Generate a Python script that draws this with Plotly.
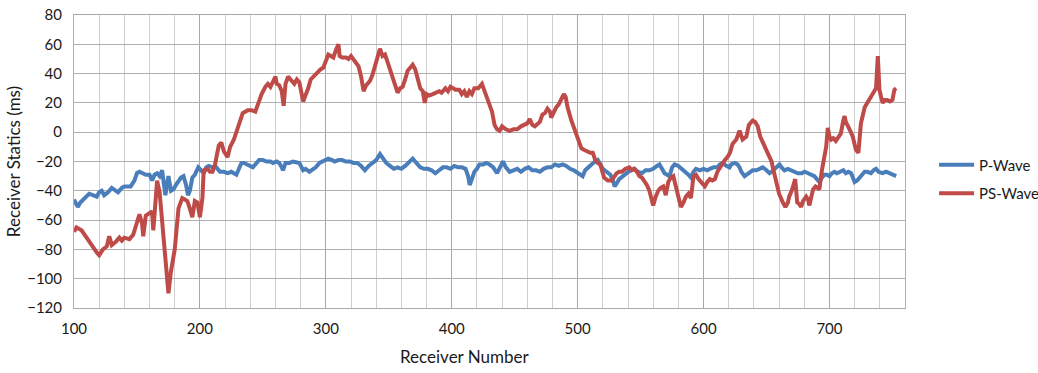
import plotly.graph_objects as go

# Receiver statics along the line, P-wave and converted PS-wave
p_receiver = [
    100, 102, 103, 105, 107, 110, 112, 115, 118, 120, 122, 124, 127, 130, 132, 135, 138, 140, 143, 145,
    148, 150, 152, 155, 157, 160, 162, 164, 166, 168, 170, 171, 172.6, 174, 175, 177, 179, 181, 183, 185,
    187, 189, 190.5, 192, 194, 196, 198.7, 201, 203, 205, 207, 210, 213, 216, 219, 222, 225, 227, 229, 231,
    233, 235, 237, 240, 242, 245, 247, 250, 253, 256, 258, 261, 263, 265, 266, 268, 271, 274, 277, 279,
    282, 284, 287, 290, 292, 295, 297, 300, 302, 305, 307, 310, 313, 316, 319, 322, 325, 328, 331, 334,
    337, 340, 343, 346, 348, 351, 354, 357, 360, 363, 366, 369, 372, 375, 378, 381, 384, 387, 390, 393,
    396, 399, 402, 405, 408, 411, 413, 414.3, 416, 418, 420, 422, 425, 427.5, 430, 433, 436, 438, 440.7, 443,
    446, 449, 452, 455, 458, 461, 464, 467, 470, 473, 476, 479, 482, 485, 488, 491, 494, 497, 500, 502,
    504, 506, 508, 511, 514, 516, 518, 520, 523, 526, 528, 529.4, 531, 533, 536, 539, 542, 545, 548, 551,
    554, 557, 560, 563, 565, 567, 569, 571, 573, 575, 577, 580, 583, 586, 588, 590, 592, 594, 597, 600,
    603, 605, 608, 611, 613, 615.4, 618, 620.6, 622, 624.6, 627, 628.6, 630, 632.6, 634, 636.5, 639, 642, 645, 647,
    650, 652.4, 654, 656.4, 658, 660.3, 662, 664.3, 667, 669.6, 672, 674.9, 678, 680.2, 683, 685.4, 688, 690, 692.1, 694,
    696, 698, 700, 702, 704, 706, 708, 711, 713, 715, 717.2, 719, 720, 722, 724, 726, 728, 730, 733, 735,
    737, 739, 742, 745, 748, 750, 753,
]
p_static = [
    -46, -49, -51, -48, -46, -44, -42, -43, -44, -41, -40, -43, -41, -38, -39, -41, -38, -37, -37, -37,
    -33, -28, -27, -28, -29, -29, -33, -29, -28, -30, -26, -33, -43, -35, -30, -40, -39, -36, -33, -31,
    -30, -36, -43, -40, -31, -29, -24, -26, -28, -24, -23, -24, -24, -27, -27, -28, -27, -28, -29, -25,
    -21, -21, -22, -23, -24, -21, -19, -19, -20, -20, -21, -20, -21, -24, -26, -21, -21, -20, -21, -21,
    -26, -25, -27, -25, -24, -21, -20, -19, -18, -19, -20, -19, -19, -20, -20, -21, -21, -23, -26, -23,
    -21, -19, -15, -19, -21, -23, -25, -24, -25, -23, -20, -18, -21, -24, -25, -25, -26, -28, -26, -24,
    -24, -25, -23, -24, -24, -25, -30, -36, -32, -27, -25, -22, -22, -21, -22, -24, -28, -24, -20, -24,
    -27, -26, -25, -27, -25, -24, -26, -26, -27, -25, -24, -24, -22, -23, -22, -23, -25, -26, -28, -29,
    -30, -26, -24, -22, -20, -19, -22, -25, -27, -29, -33, -37, -35, -32, -30, -28, -26, -25, -27, -28,
    -26, -26, -25, -23, -22, -25, -28, -29, -30, -24, -22, -23, -25, -27, -29, -31, -27, -25, -26, -25,
    -26, -25, -24, -24, -22, -21, -23, -24, -22, -21, -22, -24, -27, -30, -29, -27, -26, -26, -25, -24,
    -26, -28, -27, -25, -23, -22, -24, -26, -25, -26, -27, -28, -28, -27, -28, -29, -30, -32, -34, -31,
    -29, -29, -30, -28, -27, -28, -27, -26, -28, -27, -28, -31, -34, -33, -31, -28, -27, -27, -28, -26,
    -25, -27, -28, -27, -28, -29, -30,
]

ps_receiver = [
    100, 102, 106, 110, 114, 118, 120, 123, 126, 128, 130, 133, 136, 138, 140, 144, 147, 150, 152, 154,
    155, 157, 160, 162, 163, 164, 166, 168, 170, 171, 173, 175, 177, 180, 183, 186, 188, 190, 192, 194,
    196, 198, 200, 202, 203, 206, 208, 210, 212, 215, 217, 219, 222, 224, 227, 229, 231, 234, 238, 241,
    244, 247, 249, 252, 254, 256, 258, 260, 261, 263, 265, 266.5, 268, 270, 272, 275, 277, 279, 282, 284,
    286, 288, 291, 293, 296, 298, 300, 302, 304, 306, 308, 310, 311, 313, 316, 318, 320, 322, 324, 326,
    328, 330, 332, 335, 337, 340, 343, 345, 347, 349, 352, 355, 357, 359, 361, 363, 365, 367, 369, 371,
    373, 375, 377, 378.6, 380, 382, 385, 388, 390, 392, 395, 397, 399, 401, 403, 406, 408, 410, 412, 414,
    416, 418, 421, 424, 426, 428, 430, 432, 434, 436, 438, 440, 443, 446, 449, 452, 455, 458, 460, 462,
    464, 466, 468, 470, 472, 474, 476, 478, 479, 481, 483, 485, 487, 489, 490.5, 492, 495, 497.6, 500, 503,
    505, 507, 510, 512, 514, 516, 518, 521, 524, 527, 529, 531, 533, 535, 538, 541, 543, 545, 547, 549,
    551, 553, 555, 557, 560, 562, 564, 566, 568, 570, 572, 574, 576, 578, 580, 582, 584, 586, 588, 590,
    592, 594, 596, 598, 601, 603, 605, 607, 609, 611, 613, 615, 617, 619, 621, 623, 626, 628.6, 630, 631,
    634, 636, 638, 639, 641, 643, 645, 646, 648, 650, 652, 654, 655, 657, 658, 660, 663, 665, 667, 668,
    670, 671, 672.8, 674.4, 676, 677.5, 679, 681.5, 683, 684, 686, 687, 689, 692, 694, 696, 697.4, 698.7, 700, 701.3,
    703, 705, 707, 709, 711, 712, 713, 715, 717, 718.5, 720, 721, 723, 725, 728, 730, 732, 734, 736, 737,
    738.4, 739.7, 741, 742.3, 744, 746, 748, 750, 751.6, 753,
]
ps_static = [
    -68, -65, -67, -72, -78, -82, -84, -80, -78, -71, -77, -75, -72, -74, -72, -73, -70, -60, -56, -62,
    -71, -57, -55, -54, -67, -55, -33, -41, -60, -69, -95, -110, -95, -80, -52, -45, -46, -47, -52, -58,
    -47, -48, -58, -45, -26, -25, -27, -27, -22, -9, -7, -13, -17, -10, -5, 0, 6, 13, 15, 15,
    14, 22, 26, 31, 33, 31, 34, 38, 33, 32, 28, 18, 33, 38, 36, 33, 36, 34, 21, 25,
    30, 36, 39, 41, 43, 44, 48, 53, 52, 51, 56, 60, 52, 51, 51, 50, 52, 50, 47, 45,
    38, 28, 32, 35, 39, 48, 57, 52, 53, 48, 40, 33, 27, 30, 31, 36, 42, 44, 46, 43,
    36, 30, 28, 20, 26, 25, 26, 27, 28, 27, 30, 28, 31, 30, 29, 29, 26, 28, 24, 28,
    26, 30, 30, 33, 28, 24, 20, 14, 5, 2, 1, 4, 2, 1, 2, 2, 4, 5, 6, 9,
    5, 4, 6, 7, 12, 13, 16, 14, 10, 14, 17, 19, 22, 26, 24, 17, 8, 2, -5, -11,
    -12, -13, -14, -14, -19, -21, -22, -31, -33, -33, -30, -28, -27, -27, -25, -24, -26, -25, -27, -30,
    -31, -33, -36, -40, -50, -44, -40, -38, -37, -43, -34, -31, -30, -37, -45, -51, -48, -44, -42, -45,
    -30, -29, -32, -34, -37, -34, -32, -33, -32, -27, -24, -22, -19, -17, -14, -8, -5, 1, -3, -5,
    -3, 5, 7, 8, 7, 4, -3, -5, -9, -12, -16, -20, -24, -31, -35, -42, -48, -51, -48, -44,
    -40, -37, -32, -48, -49, -51, -47, -44, -46, -50, -43, -39, -37, -39, -26, -16, -10, 3, -3, -5,
    -4, -6, -3, -1, 8, 11, 7, 4, 0, -3, -8, -12, -14, 6, 17, 20, 22, 26, 29, 30,
    52, 29, 24, 20, 22, 22, 21, 22, 29, 30,
]

x_ticks = [100, 200, 300, 400, 500, 600, 700]
y_ticks = [-120, -100, -80, -60, -40, -20, 0, 20, 40, 60, 80]

FONT = "Lato"
TXT = "#1a1a1a"

fig = go.Figure()
fig.add_trace(go.Scatter(
    x=p_receiver, y=p_static, mode="lines", name="P-Wave", legendgroup="p",
    line=dict(color="#4A7EBB", width=4),
))
fig.add_trace(go.Scatter(
    x=ps_receiver, y=ps_static, mode="lines", name="PS-Wave", legendgroup="ps",
    line=dict(color="#BE4B48", width=4),
))

fig.update_layout(
    width=1038, height=373,
    margin=dict(l=74, r=133, t=15, b=65, autoexpand=False),
    paper_bgcolor="white", plot_bgcolor="white",
    font=dict(family=FONT, color=TXT, size=13),
    showlegend=True,
    legend=dict(
        x=1.035, xanchor="left", y=0.44, yanchor="middle",
        font=dict(family=FONT, size=15, color=TXT),
        tracegroupgap=6, itemwidth=35,
        bgcolor="rgba(0,0,0,0)",
    ),
    xaxis=dict(
        range=[100, 760], tickvals=x_ticks,
        showgrid=True, gridcolor="#a8a8a8", gridwidth=1,
        minor=dict(dtick=20, tick0=100, showgrid=True, gridcolor="#cfcfcf", gridwidth=1),
        zeroline=False, showline=True, linecolor="#a8a8a8", mirror=True,
        ticks="", tickfont=dict(family=FONT, size=15, color=TXT),
        ticklabelstandoff=7,
    ),
    yaxis=dict(
        range=[-120, 80], tickvals=y_ticks,
        showgrid=True, gridcolor="#b0b0b0", gridwidth=1,
        zeroline=False, showline=True, linecolor="#b0b0b0", mirror=True,
        ticks="", tickfont=dict(family=FONT, size=15, color=TXT),
        ticklabelstandoff=8,
        title=dict(text="Receiver Statics (ms)", font=dict(family=FONT, size=17, color=TXT), standoff=2),
    ),
    annotations=[dict(
        text="Receiver Number", xref="paper", yref="paper",
        x=0.4705, y=-0.164, xanchor="center", yanchor="middle", showarrow=False,
        font=dict(family=FONT, size=17, color=TXT),
    )],
)

fig.write_html("out.html")
